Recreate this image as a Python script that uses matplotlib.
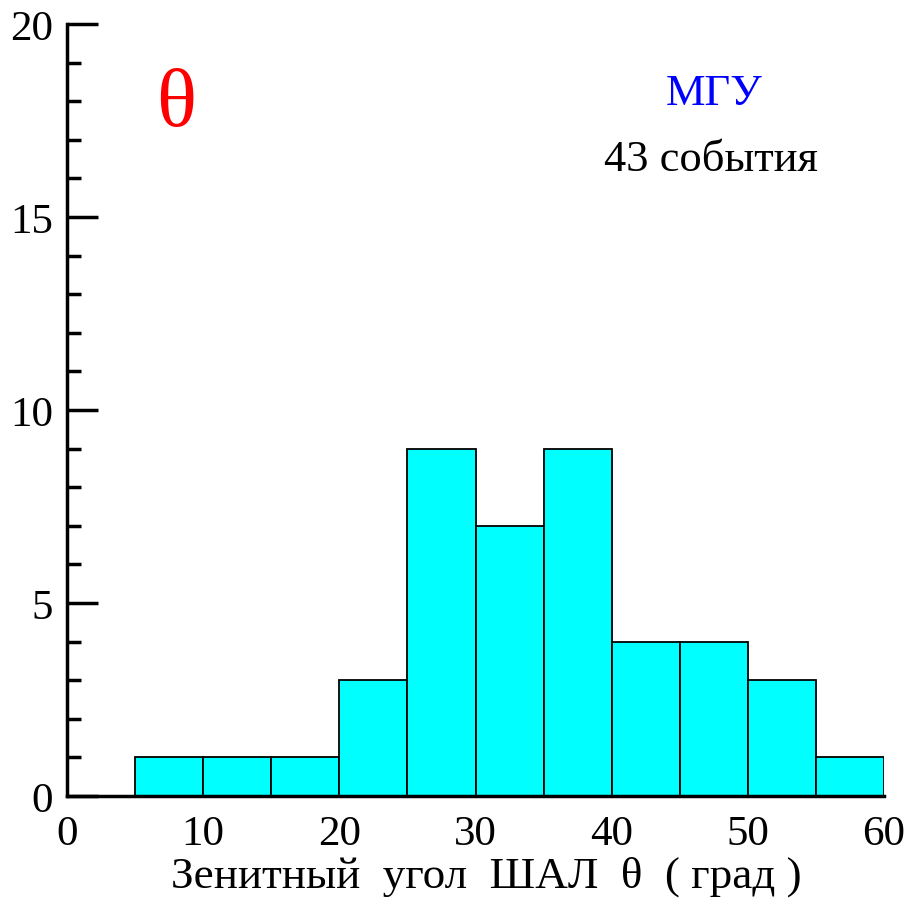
import numpy as np
import matplotlib
matplotlib.use("Agg")
from matplotlib import pyplot as plt
from matplotlib.ticker import MultipleLocator

# zenith angle histogram, 43 events
bin_edges = [5, 10, 15, 20, 25, 30, 35, 40, 45, 50, 55, 60]
counts = [1, 1, 1, 3, 9, 7, 9, 4, 4, 3, 1]
x_ticks = [0, 10, 20, 30, 40, 50, 60]
y_ticks = [0, 5, 10, 15, 20]

plt.rcParams['font.family'] = ['Liberation Serif', 'DejaVu Serif']

fig = plt.figure(figsize=(9.1, 9.03), dpi=100)
ax = fig.add_axes([67/910, 1 - 797/903, (884 - 67)/910, (797 - 25)/903])

widths = np.diff(bin_edges)
ax.bar(bin_edges[:-1], counts, width=widths, align='edge',
       color='#00FFFF', edgecolor='black', linewidth=1.3, zorder=2)

ax.set_xlim(0, 60)
ax.set_ylim(0, 20)
ax.set_xticks(x_ticks)
ax.set_yticks(y_ticks)
ax.yaxis.set_minor_locator(MultipleLocator(1))

for s in ['top', 'right']:
    ax.spines[s].set_visible(False)
for s in ['left', 'bottom']:
    ax.spines[s].set_linewidth(2.5)
    ax.spines[s].set_zorder(3)

ax.tick_params(axis='y', which='major', direction='in', length=22, width=2.5,
               labelsize=31, pad=10)
ax.tick_params(axis='y', which='minor', direction='in', length=10, width=2.5)
ax.tick_params(axis='x', which='major', length=0, labelsize=31, pad=13)

ax.set_xlabel("Зенитный  угол  ШАЛ  θ  ( град )", fontsize=32.5, labelpad=2, x=0.513)

ax.text(8.0, 17.9, "θ", color='red', fontsize=60, ha='center', va='center')
ax.text(47.5, 18.2, "МГУ", color='blue', fontsize=32, ha='center', va='center')
ax.text(47.3, 16.5, "43 события", color='black', fontsize=32, ha='center', va='center')

plt.savefig("out.png", dpi=100)
